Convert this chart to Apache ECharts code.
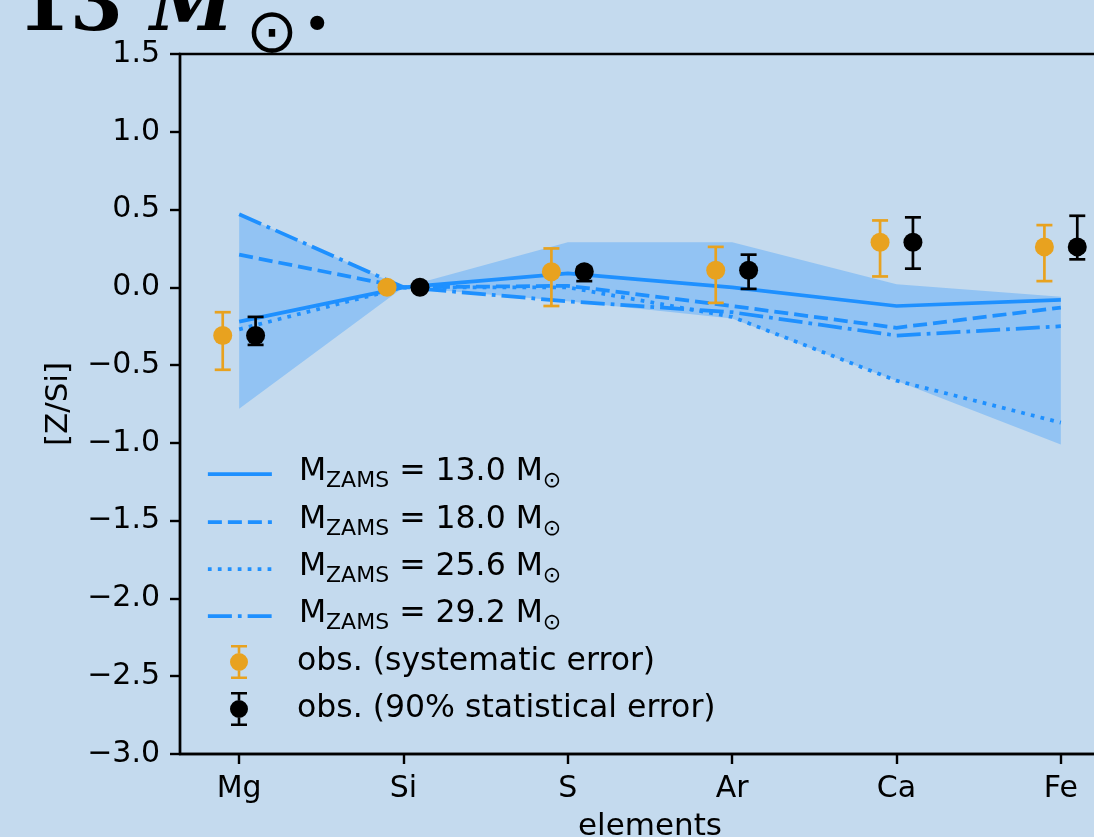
<!DOCTYPE html>
<html><head><meta charset="utf-8">
<script src="https://cdn.jsdelivr.net/npm/echarts@6/dist/echarts.min.js"></script>
<style>html,body{margin:0;padding:0;background:#c4daee;}#c{width:1094px;height:837px;}</style>
</head><body><div id="c"></div>
<script>
// ---- data ----
const elements = ['Mg', 'Si', 'S', 'Ar', 'Ca', 'Fe'];
const yTickValues = [-3.0, -2.5, -2.0, -1.5, -1.0, -0.5, 0.0, 0.5, 1.0, 1.5];
const modelNames = ['13.0', '18.0', '25.6', '29.2'];
const m130 = [-0.22, 0.00, 0.09, 0.00, -0.12, -0.08];
const m180 = [0.21, 0.00, 0.01, -0.12, -0.26, -0.13];
const m256 = [-0.27, 0.00, 0.00, -0.19, -0.60, -0.87];
const m292 = [0.47, 0.00, -0.09, -0.16, -0.31, -0.25];
const bandUpper = [0.47, 0.00, 0.29, 0.29, 0.02, -0.06];
const bandLower = [-0.78, 0.00, -0.09, -0.20, -0.60, -1.01];
const sysVal  = [-0.31, 0.00, 0.10, 0.11, 0.29, 0.26];
const sysLow  = [-0.53, 0.00, -0.12, -0.10, 0.07, 0.04];
const sysHigh = [-0.16, 0.00, 0.25, 0.26, 0.43, 0.40];
const statVal  = [-0.31, 0.00, 0.10, 0.11, 0.29, 0.26];
const statLow  = [-0.37, 0.00, 0.04, -0.01, 0.12, 0.18];
const statHigh = [-0.19, 0.00, 0.13, 0.21, 0.45, 0.46];
const obsOffset = 0.1;

// ---- style ----
const BLUE = '#1e90ff', ORANGE = '#e8a21f', BLACK = '#000000';
const FONT = 'DejaVu Sans';
const dashes = ['solid', [14, 6], [3.75, 6.2], [24, 6, 3.75, 6]];
const modelData = [m130, m180, m256, m292];

const chart = echarts.init(document.getElementById('c'), null, {renderer: 'canvas'});

function lineSeries(k) {
  return {
    type: 'line', name: 'm' + k, symbol: 'none', z: 3,
    data: elements.map((e, i) => [i, modelData[k][i]]),
    lineStyle: {color: BLUE, width: 3.75, type: dashes[k], cap: 'butt'},
    itemStyle: {color: BLUE},
    silent: true, animation: false
  };
}

function errSeries(vals, lo, hi, off, color, name) {
  return [{
    type: 'custom', z: 5, silent: true, animation: false,
    data: elements.map((e, i) => [i + off, lo[i], hi[i]]),
    renderItem: function (params, api) {
      const x = api.value(0), l = api.value(1), h = api.value(2);
      if (l === h) return null;
      const p1 = api.coord([x, h]), p2 = api.coord([x, l]);
      const st = {stroke: color, lineWidth: 2.7};
      return {type: 'group', children: [
        {type: 'line', shape: {x1: p1[0], y1: p1[1], x2: p2[0], y2: p2[1]}, style: st},
        {type: 'line', shape: {x1: p1[0] - 8, y1: p1[1], x2: p1[0] + 8, y2: p1[1]}, style: st},
        {type: 'line', shape: {x1: p2[0] - 8, y1: p2[1], x2: p2[0] + 8, y2: p2[1]}, style: st}
      ]};
    }
  }, {
    type: 'scatter', name: name, z: 6, silent: true, animation: false,
    symbol: 'circle', symbolSize: 19,
    data: elements.map((e, i) => [i + off, vals[i]]),
    itemStyle: {color: color, opacity: 1}
  }];
}

const bandSeries = {
  type: 'custom', z: 2, silent: true, animation: false,
  data: [[0, 0]],
  renderItem: function (params, api) {
    if (params.dataIndex !== 0) return null;
    const pts = [];
    for (let i = 0; i < elements.length; i++) pts.push(api.coord([i, bandUpper[i]]));
    for (let i = elements.length - 1; i >= 0; i--) pts.push(api.coord([i, bandLower[i]]));
    return {type: 'polygon', shape: {points: pts}, style: {fill: 'rgba(30,144,255,0.30)'}};
  }
};

const rich = {
  n: {fontSize: 31.5, fontFamily: FONT, color: '#000', verticalAlign: 'top'},
  s: {fontSize: 22, fontFamily: FONT, color: '#000', verticalAlign: 'top', padding: [14, 0, 0, 0]}
};
const rowY = [471, 519, 566, 613, 661, 708];
const errIcon = 'path://M1,0h16v2.6h-16z M7.7,2.6h2.6v5.4h-2.6z M7.7,26h2.6v5.4h-2.6z M1,31.4h16v2.6h-16z M0,17a9,9 0 1,1 18,0a9,9 0 1,1 -18,0z';
const legends = [];
for (let k = 0; k < 4; k++) {
  legends.push({
    show: true, left: 206, top: rowY[k] - 15, orient: 'vertical', padding: 0,
    itemWidth: 64, itemHeight: 40, selectedMode: false,
    data: ['m' + k],
    lineStyle: {width: 3.75},
    itemStyle: {color: 'rgba(0,0,0,0)', borderWidth: 0},
    formatter: () => '{n|M}{s|ZAMS}{n| = ' + modelNames[k] + ' M}{s|⊙}',
    textStyle: {rich: rich, padding: [0, 0, 0, 22]}
  });
}
const obsLabels = ['obs. (systematic error)', 'obs. (90% statistical error)'];
['sys', 'stat'].forEach((nm, j) => {
  legends.push({
    show: true, left: 230, top: rowY[4 + j] - 16, orient: 'vertical', padding: 0,
    itemWidth: 18, itemHeight: 34, selectedMode: false,
    data: [{name: nm, icon: errIcon}],
    formatter: () => obsLabels[j],
    textStyle: {fontSize: 31.5, fontFamily: FONT, color: '#000', lineHeight: 30, padding: [0, 0, 0, 44]}
  });
});

const option = {
  backgroundColor: '#c4daee',
  animation: false,
  grid: {left: 180, top: 54, width: 940, height: 700, show: true, borderColor: '#000', borderWidth: 2.4,
    backgroundColor: 'transparent', outerBoundsMode: 'none', containLabel: false},
  xAxis: {
    type: 'value', min: -0.36, max: 5.36,
    name: 'elements', nameLocation: 'middle', nameGap: 57,
    nameTextStyle: {fontSize: 31, fontFamily: FONT, color: '#000', verticalAlign: 'top'},
    axisLine: {show: true, onZero: false, lineStyle: {color: '#000', width: 2.4}},
    axisTick: {show: true, length: 10, lineStyle: {color: '#000', width: 2.4}, customValues: [0, 1, 2, 3, 4, 5]},
    axisLabel: {show: true, fontSize: 30, fontFamily: FONT, color: '#000', margin: 20,
      customValues: [0, 1, 2, 3, 4, 5], formatter: v => elements[Math.round(v)]},
    splitLine: {show: false}
  },
  yAxis: {
    type: 'value', min: -3.0, max: 1.5, interval: 0.5,
    name: '[Z/Si]', nameLocation: 'middle', nameGap: 106, nameRotate: 90,
    nameTextStyle: {fontSize: 31, fontFamily: FONT, color: '#000'},
    axisLine: {show: true, onZero: false, lineStyle: {color: '#000', width: 2.4}},
    axisTick: {show: true, length: 10, lineStyle: {color: '#000', width: 2.4}},
    axisLabel: {show: true, fontSize: 30, fontFamily: FONT, color: '#000', margin: 20,
      formatter: v => v.toFixed(1).replace('-', '\u2212')},
    splitLine: {show: false}
  },
  legend: legends,
  graphic: [
    {type: 'text', x: 17, y: 48, z: 10, style: {text: '13', font: 'bold 76px "DejaVu Serif"', fill: '#000', align: 'left', verticalAlign: 'bottom'}},
    {type: 'text', x: 150, y: 48, z: 10, style: {text: 'M', font: 'italic bold 76px "DejaVu Serif"', fill: '#000', align: 'left', verticalAlign: 'bottom'}},
    {type: 'text', x: 272, y: 36, z: 10, style: {text: '\u2299', font: '62px "DejaVu Sans"', fill: '#000', align: 'center', verticalAlign: 'middle'}},
    {type: 'text', x: 304, y: 47, z: 10, style: {text: '.', font: 'bold 76px "DejaVu Serif"', fill: '#000', align: 'left', verticalAlign: 'bottom'}}
  ],
  series: [bandSeries, lineSeries(0), lineSeries(1), lineSeries(2), lineSeries(3)]
    .concat(errSeries(sysVal, sysLow, sysHigh, -obsOffset, ORANGE, 'sys'))
    .concat(errSeries(statVal, statLow, statHigh, obsOffset, BLACK, 'stat'))
};
chart.setOption(option);
</script></body></html>
